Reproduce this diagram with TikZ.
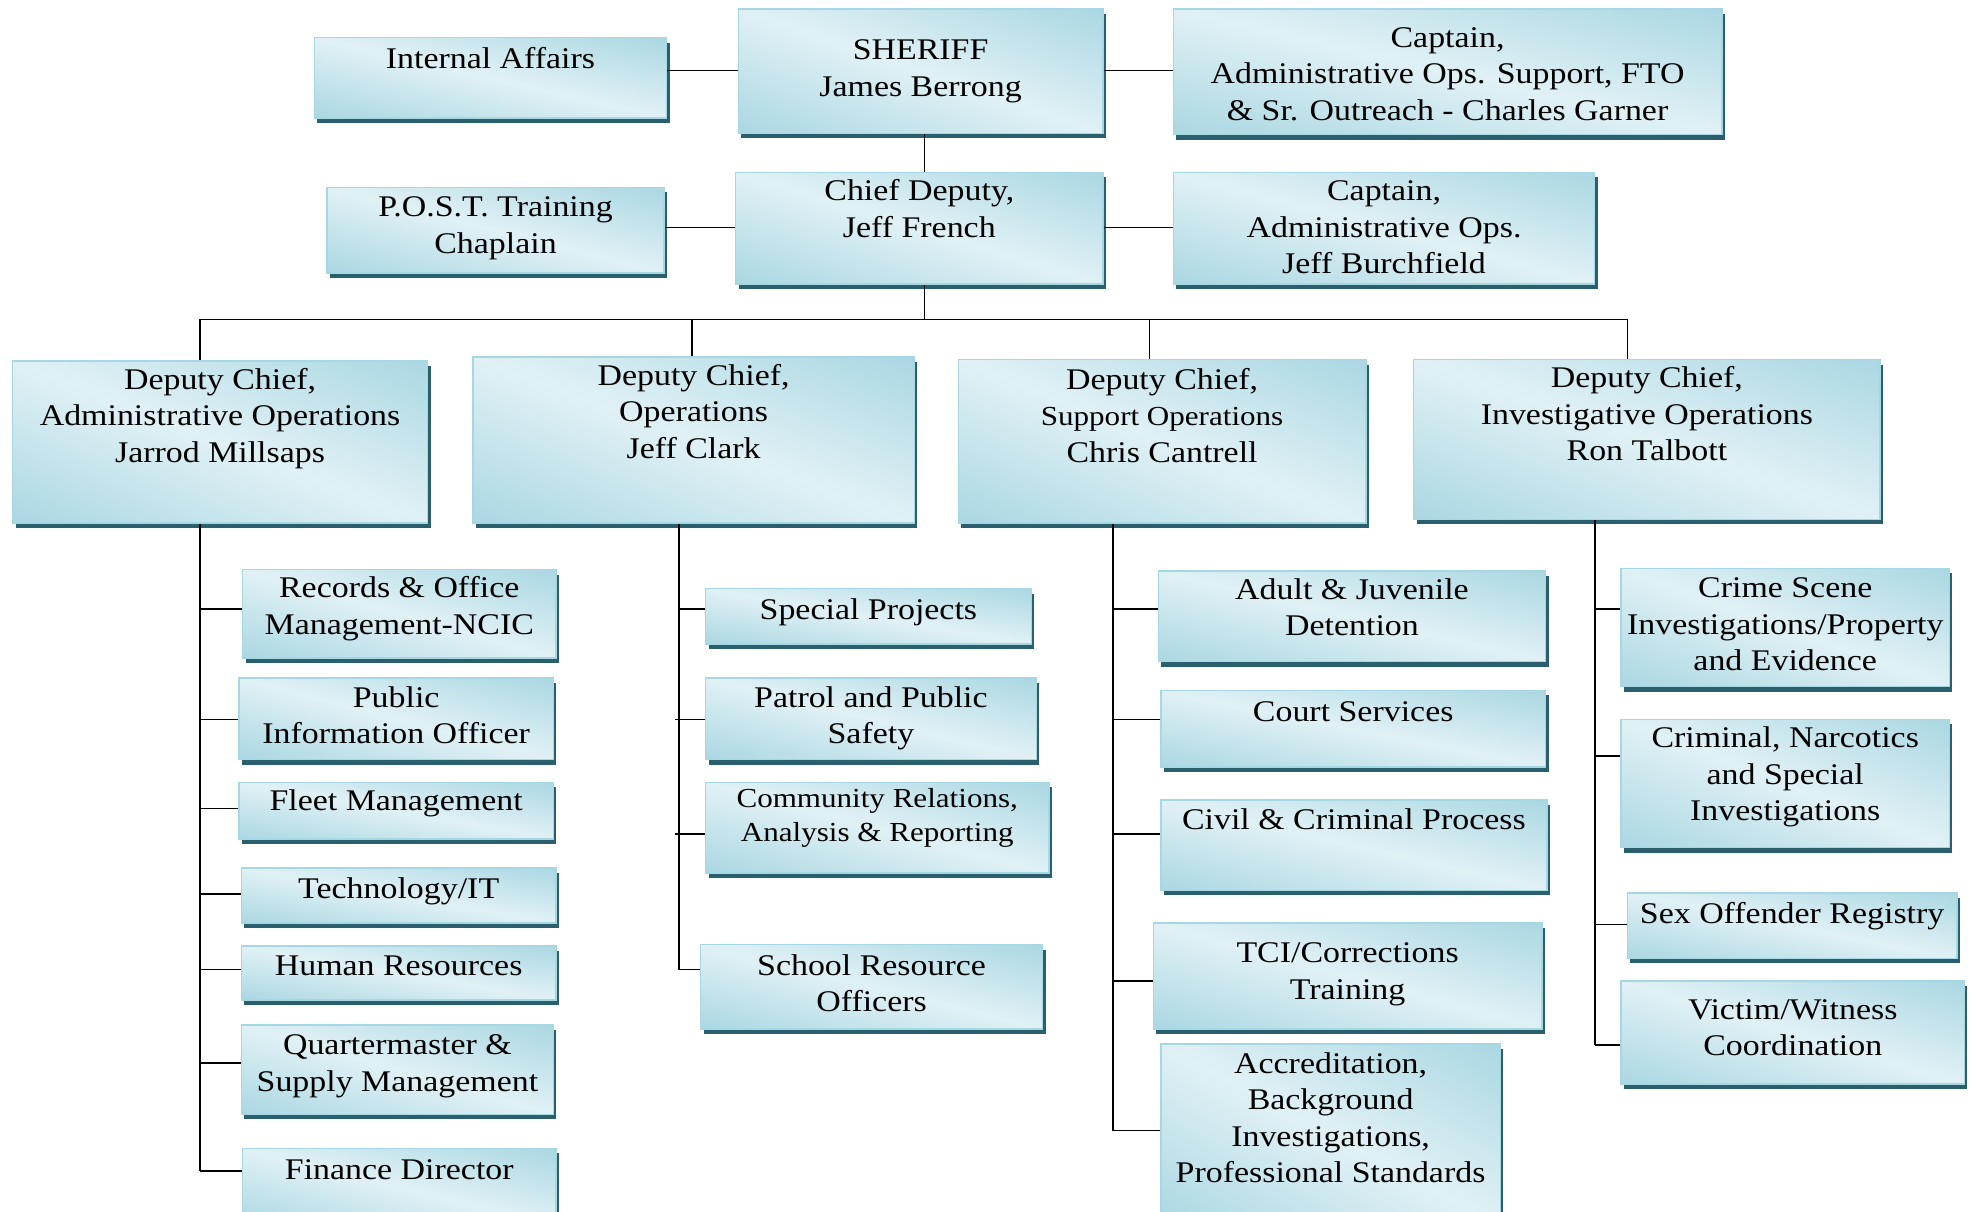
\documentclass[tikz,border=0pt]{standalone}
\usepackage{fontspec}
\setmainfont{Liberation Serif}[FakeStretch=1.13]
\usetikzlibrary{shadows}
\definecolor{bedge}{HTML}{A6D8E4}
\definecolor{shcol}{HTML}{2A5F6D}
\pgfdeclarefunctionalshading{diagband}{\pgfpoint{-50bp}{-50bp}}{\pgfpoint{50bp}{50bp}}{}{
  add abs 100 div 1.35 mul dup 1 gt {pop 1} if
  dup -0.315 mul 0.880 add exch
  dup -0.150 mul 0.945 add exch
  -0.110 mul 0.962 add
}
\tikzset{
 obox/.style={rectangle, inner sep=0pt, draw=bedge, line width=1.5pt,
   shade, shading=diagband, shading angle=0,
   drop shadow={shadow xshift=3pt, shadow yshift=-5pt, fill=shcol, draw=none, opacity=1}},
 otext/.style={inner sep=0pt, align=center, text=black},
 conn/.style={line width=1.6pt, black},
 big/.style={font=\fontsize{30}{36.5}\selectfont},
 small/.style={font=\fontsize{27.5}{34}\selectfont},
}
\newcommand\ob[8]{%
 \node[obox, minimum width={1.2577pt*(#4-#2)}, minimum height={1.2577pt*(#5-#3)}] (#1) at ({(#2+#4)/2},{(#3+#5)/2}) {};
 \node[otext, #7, anchor=north] (#1t) at ({(#2+#4)/2},{#6-13}) {\strut #8};}
\newcommand\br[3]{\draw[conn] (#1,#3) -- (#2.west |- 0,#3);}
\begin{document}
\begin{tikzpicture}[x=1.2577pt,y=-1.2577pt]
\useasboundingbox (0,0) rectangle (1568,963);
% top level
\ob{ia}{250}{30}{530}{94}{47}{big}{Internal Affairs}
\ob{sh}{587}{7}{877}{106}{40}{big}{SHERIFF\\James Berrong}
\ob{capa}{933}{7}{1369}{107}{30}{big}{Captain,\\Administrative Ops. Support, FTO\\\& Sr. Outreach - Charles Garner}
\ob{post}{260}{149}{528}{217}{165}{big}{P.O.S.T. Training\\Chaplain}
\ob{cd}{585}{137}{877}{226}{152}{big}{Chief Deputy,\\Jeff French}
\ob{capb}{933}{137}{1268}{226}{152}{big}{Captain,\\Administrative Ops.\\Jeff Burchfield}
% deputy chiefs
\ob{dca}{10}{287}{340}{416}{302}{big}{Deputy Chief,\\Administrative Operations\\Jarrod Millsaps}
\ob{dco}{376}{284}{727}{416}{299}{big}{Deputy Chief,\\Operations\\Jeff Clark}
\ob{dcs}{762}{286}{1086}{416}{302}{big}{Deputy Chief,\\{\fontsize{27.5}{34}\selectfont Support Operations}\\Chris Cantrell}
\ob{dci}{1124}{286}{1495}{413}{301}{big}{Deputy Chief,\\Investigative Operations\\Ron Talbott}
% admin column
\ob{rec}{193}{453}{442}{523}{468}{big}{Records \& Office\\Management-NCIC}
\ob{pio}{190}{539}{440}{604}{555}{big}{Public\\Information Officer}
\ob{fleet}{190}{622}{440}{667}{637}{big}{Fleet Management}
\ob{tech}{192}{690}{442}{734}{707}{big}{Technology/IT}
\ob{hr}{192}{752}{442}{795}{768}{big}{Human Resources}
\ob{qm}{192}{815}{440}{886}{831}{big}{Quartermaster \&\\Supply Management}
\ob{fin}{193}{913}{442}{975}{930}{big}{Finance Director}
% operations column
\ob{sp}{561}{468}{820}{512}{485}{big}{Special Projects}
\ob{pps}{561}{539}{824}{604}{555}{big}{Patrol and Public\\Safety}
\ob{crr}{561}{622}{834}{694}{636}{small}{Community Relations,\\Analysis \& Reporting}
\ob{sro}{557}{751}{829}{818}{768}{big}{School Resource\\Officers}
% support column
\ob{ajd}{921}{454}{1229}{526}{469}{big}{Adult \& Juvenile\\Detention}
\ob{cs}{923}{549}{1229}{610}{566}{big}{Court Services}
\ob{ccp}{923}{636}{1230}{708}{652}{big}{Civil \& Criminal Process}
\ob{tci}{917}{734}{1226}{818}{758}{big}{TCI/Corrections\\Training}
\ob{acc}{923}{830}{1193}{975}{846}{big}{Accreditation,\\Background\\Investigations,\\Professional Standards}
% investigative column
\ob{csi}{1289}{452}{1550}{546}{468}{big}{Crime Scene\\Investigations/Property\\and Evidence}
\ob{cns}{1289}{572}{1550}{674}{587}{big}{Criminal, Narcotics\\and Special\\Investigations}
\ob{sor}{1294}{710}{1556}{762}{727}{big}{Sex Offender Registry}
\ob{vwc}{1289}{780}{1562}{862}{803}{big}{Victim/Witness\\Coordination}
% connectors top
\draw[conn] (ia.east |- 0,56) -- (sh.west |- 0,56);
\draw[conn] (sh.east |- 0,56) -- (capa.west |- 0,56);
\draw[conn] (post.east |- 0,181) -- (cd.west |- 0,181);
\draw[conn] (cd.east |- 0,181) -- (capb.west |- 0,181);
\draw[conn] (sh.south -| 735,0) -- (cd.north -| 735,0);
\coordinate (bus) at (735,254);
\draw[conn] (cd.south -| 735,0) -- (bus);
\draw[conn] (dca.north -| 159,0) -- (159,254) -- (1294,254) -- (dci.north -| 1294,0);
\draw[conn] (550,254) -- (dco.north -| 550,0);
\draw[conn] (914,254) -- (dcs.north -| 914,0);
% trunks
\draw[conn] (dca.south -| 159,0) -- (159,931);
\draw[conn] (dco.south -| 540,0) -- (540,771);
\draw[conn] (dcs.south -| 885,0) -- (885,899);
\draw[conn] (dci.south -| 1268,0) -- (1268,831);
% branches
\br{159}{rec}{484} \br{159}{pio}{572} \br{159}{fleet}{643} \br{159}{tech}{711}
\br{159}{hr}{771} \br{159}{qm}{845} \br{159}{fin}{931}
\br{540}{sp}{484} \br{537}{pps}{572} \br{537}{crr}{663} \br{540}{sro}{771}
\br{885}{ajd}{484} \br{885}{cs}{572} \br{885}{ccp}{663} \br{885}{tci}{780} \br{885}{acc}{899}
\br{1268}{csi}{484} \br{1268}{cns}{601} \br{1268}{sor}{735} \br{1268}{vwc}{831}
\end{tikzpicture}
\end{document}
